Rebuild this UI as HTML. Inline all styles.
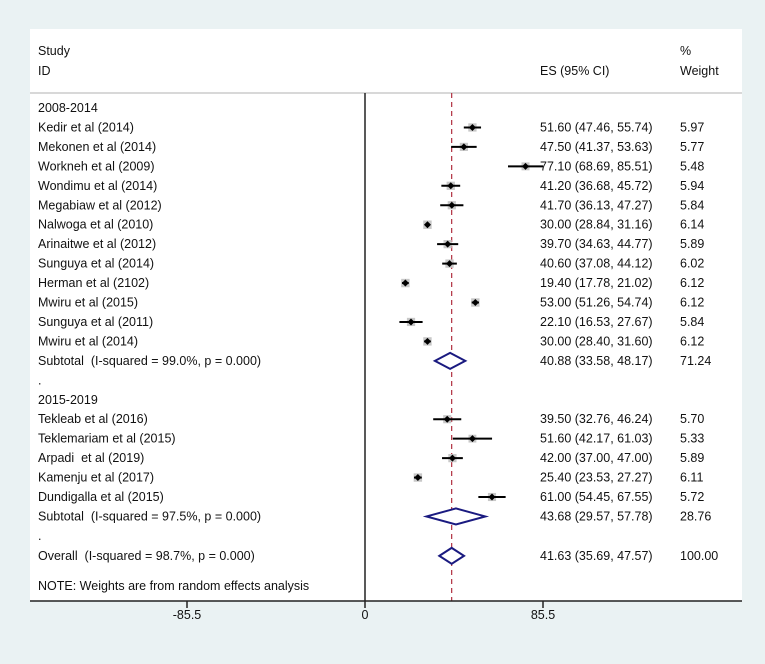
<!DOCTYPE html>
<html><head><meta charset="utf-8"><style>
body{margin:0;width:765px;height:659px;background:#eaf2f3;overflow:hidden}
svg text{font-family:"Liberation Sans",Arial,sans-serif;font-size:12.5px;fill:#111;white-space:pre}
</style></head><body>
<svg id="chart" width="765" height="659" xmlns="http://www.w3.org/2000/svg">
<rect x="30" y="29" width="712" height="572" fill="#fff"/>
<line x1="30" y1="93" x2="742" y2="93" stroke="#ccc" stroke-width="1.5"/>
<text x="38" y="55">Study</text>
<text x="38" y="75">ID</text>
<text x="540" y="75">ES (95% CI)</text>
<text x="680" y="55">%</text>
<text x="680" y="75">Weight</text>
</svg>
<script>
const labels=["2008-2014","Kedir et al (2014)","Mekonen et al (2014)","Workneh et al (2009)","Wondimu et al (2014)","Megabiaw et al (2012)","Nalwoga et al (2010)","Arinaitwe et al (2012)","Sunguya et al (2014)","Herman et al (2102)","Mwiru et al (2015)","Sunguya et al (2011)","Mwiru et al (2014)","Subtotal  (I-squared = 99.0%, p = 0.000)",".","2015-2019","Tekleab et al (2016)","Teklemariam et al (2015)","Arpadi  et al (2019)","Kamenju et al (2017)","Dundigalla et al (2015)","Subtotal  (I-squared = 97.5%, p = 0.000)",".","Overall  (I-squared = 98.7%, p = 0.000)"];
const kinds=["h","s","s","s","s","s","s","s","s","s","s","s","s","d","b","h","s","s","s","s","s","d","b","d"];
const es=[null,51.60,47.50,77.10,41.20,41.70,30.00,39.70,40.60,19.40,53.00,22.10,30.00,40.88,null,null,39.50,51.60,42.00,25.40,61.00,43.68,null,41.63];
const lo=[null,47.46,41.37,68.69,36.68,36.13,28.84,34.63,37.08,17.78,51.26,16.53,28.40,33.58,null,null,32.76,42.17,37.00,23.53,54.45,29.57,null,35.69];
const hi=[null,55.74,53.63,85.51,45.72,47.27,31.16,44.77,44.12,21.02,54.74,27.67,31.60,48.17,null,null,46.24,61.03,47.00,27.27,67.55,57.78,null,47.57];
const wt=[null,5.97,5.77,5.48,5.94,5.84,6.14,5.89,6.02,6.12,6.12,5.84,6.12,71.24,null,null,5.70,5.33,5.89,6.11,5.72,28.76,null,100.00];
const ticks=[-85.5,0,85.5];
const tickLabels=["-85.5","0","85.5"];
const overall=41.63;
const NS="http://www.w3.org/2000/svg";
const X=v=>365+v*(178/85.5);
const Y=i=>108+i*19.45+(i>=23?0.5:0);
const svg=document.getElementById('chart');
function mk(t,a){const e=document.createElementNS(NS,t);for(const k in a)e.setAttribute(k,a[k]);svg.appendChild(e);return e;}
let z=mk('line',{x1:X(0),y1:93,x2:X(0),y2:601,stroke:'#222','stroke-width':1.5});


let d=mk('line',{x1:X(overall),y1:93,x2:X(overall),y2:601,stroke:'#b03040','stroke-width':1.2,'stroke-dasharray':'5,4'});


labels.forEach((l,i)=>{
 const y=Y(i);
 const t=mk('text',{x:38,y:y+4});t.textContent=l;
 
 
 if(es[i]==null)return;
 const e=mk('text',{x:540,y:y+4});e.textContent=es[i].toFixed(2)+" ("+lo[i].toFixed(2)+", "+hi[i].toFixed(2)+")";
 
 
 const w=mk('text',{x:680,y:y+4});w.textContent=wt[i].toFixed(2);
 
 
 if(kinds[i]=='s'){
  const s=Math.sqrt(wt[i])*3.4;
  const b=mk('rect',{x:X(es[i])-s/2,y:y-s/2,width:s,height:s,fill:'#c8c8c8'});
  
  
  const c=mk('line',{x1:X(lo[i]),y1:y,x2:X(hi[i]),y2:y,stroke:'#000','stroke-width':2});
  
  
  const p=mk('path',{d:`M${X(es[i])-3.5},${y}L${X(es[i])},${y-3.5}L${X(es[i])+3.5},${y}L${X(es[i])},${y+3.5}Z`,fill:'#000'});
  
  
 } else {
  const p=mk('path',{d:`M${X(lo[i])},${y}L${X(es[i])},${y-8}L${X(hi[i])},${y}L${X(es[i])},${y+8}Z`,fill:'#fff',stroke:'#1a1a80','stroke-width':2});
  
  
 }
});
const note=mk('text',{x:38,y:590});note.textContent="NOTE: Weights are from random effects analysis";


const ax=mk('line',{x1:30,y1:601,x2:742,y2:601,stroke:'#222','stroke-width':1.5});


ticks.forEach((v,k)=>{
 const t=mk('line',{x1:X(v),y1:601,x2:X(v),y2:608,stroke:'#222','stroke-width':1.5});
 
 
 const l=mk('text',{x:X(v),y:619,'text-anchor':'middle'});l.textContent=tickLabels[k];
 
 
});
</script>
</body></html>
